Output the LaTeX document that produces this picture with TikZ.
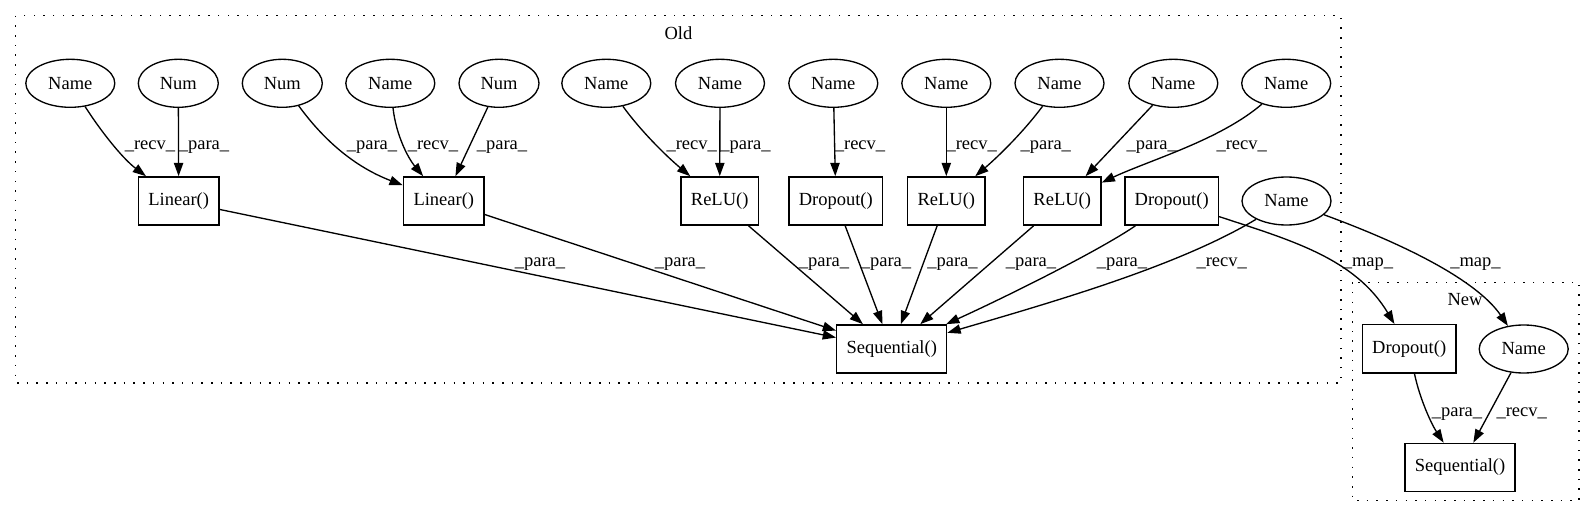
\documentclass[tikz,border=0pt]{standalone}
\usepackage{fontspec}
\setmainfont{Liberation Serif}
\usetikzlibrary{shapes.geometric,arrows.meta}
\begin{document}
\begin{tikzpicture}[x=1pt,y=-1pt,
  every node/.style={font=\fontsize{18.5}{22}\selectfont},
  ell/.style={ellipse,draw,line width=1.33pt,minimum width=89pt,minimum height=48pt,inner sep=0pt},
  numell/.style={ell,minimum width=80pt},
  box/.style={rectangle,draw,line width=1.33pt,minimum height=48.3pt,inner sep=0pt},
  edge/.style={line width=1.33pt,-{Triangle[length=13.3pt,width=9.3pt]}},
  lbl/.style={anchor=base,inner sep=0pt},
  cluster/.style={line width=1.33pt,dash pattern=on 1.5pt off 8.2pt}
]
\useasboundingbox (0,0) rectangle (1595,518);

% clusters
\draw[cluster] (15.7,15.7) rectangle (1341,383);
\node (oldlbl) at (678.5,33.3) {Old};
\draw[cluster] (1352.3,282.3) rectangle (1579,500.7);
\node (newlbl) at (1465,299.3) {New};

% top row
\node[ell]    (n1)  at (70.3,83.3)   {Name};
\node[numell] (n2)  at (178.3,83.3)  {Num};
\node[numell] (n3)  at (282.3,83.3)  {Num};
\node[ell]    (n4)  at (390.3,83.3)  {Name};
\node[numell] (n5)  at (499,83.3)    {Num};
\node[ell]    (n6)  at (606.3,83.3)  {Name};
\node[ell]    (n7)  at (720,83.3)    {Name};
\node[ell]    (n8)  at (833.3,83.3)  {Name};
\node[ell]    (n9)  at (946.3,83.3)  {Name};
\node[ell]    (n10) at (1059.5,83.3) {Name};
\node[ell]    (n11) at (1173.3,83.3) {Name};
\node[ell]    (n12) at (1286.2,83.3) {Name};

% middle row
\node[box,minimum width=80.7pt] (lin1)  at (178.7,201)  {Linear()};
\node[box,minimum width=80.7pt] (lin2)  at (443.8,201)  {Linear()};
\node[box,minimum width=77.5pt] (relu1) at (719.7,201)  {ReLU()};
\node[box,minimum width=93.5pt] (drop1) at (835.8,201)  {Dropout()};
\node[box,minimum width=77.5pt] (relu2) at (946.3,201)  {ReLU()};
\node[box,minimum width=77.5pt] (relu3) at (1062.2,201) {ReLU()};
\node[box,minimum width=93.5pt] (drop2) at (1171.7,201) {Dropout()};
\node[ell] (nameh) at (1286.5,201) {Name};

\node[box,minimum width=110pt] (seq) at (891.7,349) {Sequential()};

% new cluster nodes
\node[box,minimum width=93.7pt] (ndrop) at (1409.2,348.8) {Dropout()};
\node[ell] (nname) at (1523.7,349) {Name};
\node[box,minimum width=110pt] (nseq) at (1460,467.5) {Sequential()};

% edges top -> middle
\draw[edge] (n1) .. controls (100,130) and (122,158) .. (lin1);
\draw[edge] (n2) -- (lin1);
\draw[edge] (n3) .. controls (320,135) and (350,165) .. (lin2);
\draw[edge] (n4) .. controls (396,135) and (408,158) .. (lin2);
\draw[edge] (n5) -- (lin2);
\draw[edge] (n6) .. controls (640,130) and (665,155) .. (relu1);
\draw[edge] (n7) -- (relu1);
\draw[edge] (n8) -- (drop1);
\draw[edge] (n9) -- (relu2);
\draw[edge] (n10) .. controls (1025,130) and (1000,155) .. (relu2);
\draw[edge] (n11) -- (relu3);
\draw[edge] (n12) .. controls (1220,140) and (1150,160) .. (relu3);

\node[lbl] (l1)  at (150,150)    {\_recv\_};
\node[lbl] (l2)  at (204,150)    {\_para\_};
\node[lbl] (l3)  at (372,150)    {\_para\_};
\node[lbl] (l4)  at (433,150)    {\_recv\_};
\node[lbl] (l5)  at (502,150)    {\_para\_};
\node[lbl] (l6)  at (691.7,150)  {\_recv\_};
\node[lbl] (l7)  at (745.5,150)  {\_para\_};
\node[lbl] (l8)  at (860,150)    {\_recv\_};
\node[lbl] (l9)  at (971.7,150)  {\_recv\_};
\node[lbl] (l10) at (1045.8,150) {\_para\_};
\node[lbl] (l11) at (1151.7,150) {\_para\_};
\node[lbl] (l12) at (1241.7,150) {\_recv\_};

% edges middle -> sequential
\draw[edge] (lin1) -- (seq);
\draw[edge] (lin2) -- (seq);
\draw[edge] (relu1) -- (seq);
\draw[edge] (drop1) -- (seq);
\draw[edge] (relu2) -- (seq);
\draw[edge] (relu3) -- (seq);
\draw[edge] (drop2) .. controls (1100,250) and (1010,295) .. (seq);
\draw[edge] (nameh) .. controls (1180,265) and (1060,300) .. (seq);

\node[lbl] (l13) at (540,267)    {\_para\_};
\node[lbl] (l14) at (680,267)    {\_para\_};
\node[lbl] (l15) at (824,267)    {\_para\_};
\node[lbl] (l16) at (886,267)    {\_para\_};
\node[lbl] (l17) at (952.5,267)  {\_para\_};
\node[lbl] (l18) at (1031,267)   {\_para\_};
\node[lbl] (l19) at (1122,267)   {\_para\_};
\node[lbl] (l20) at (1221.7,267) {\_recv\_};

% map edges
\draw[edge] (drop2) .. controls (1290,240) and (1355,258) .. (ndrop);
\draw[edge] (nameh) .. controls (1420,250) and (1480,285) .. (nname);
\node[lbl] (l21) at (1368,267)   {\_map\_};
\node[lbl] (l22) at (1475.5,267) {\_map\_};

% new cluster edges
\draw[edge] (ndrop) .. controls (1420,400) and (1432,425) .. (nseq);
\draw[edge] (nname) -- (nseq);
\node[lbl] (l23) at (1457,416)   {\_para\_};
\node[lbl] (l24) at (1521.7,416) {\_recv\_};
\end{tikzpicture}
\end{document}
